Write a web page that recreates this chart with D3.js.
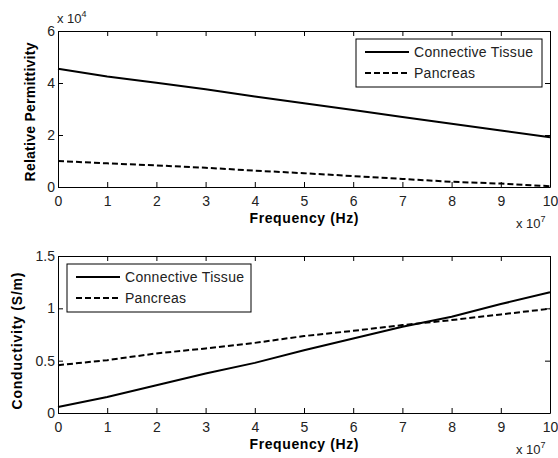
<!DOCTYPE html>
<html>
<head>
<meta charset="utf-8">
<script src="https://cdn.jsdelivr.net/npm/d3@7"></script>
<style>
  body { margin: 0; background: #fff; }
  text { font-family: "Liberation Sans", Arial, sans-serif; }
</style>
</head>
<body>
<div id="chart"></div>
<script>
// data (frequency in units of 1e7 Hz)
const freq = [0, 1, 2, 3, 4, 5, 6, 7, 8, 9, 10]
const permConnective = [4.55, 4.25, 4.01, 3.76, 3.48, 3.22, 2.96, 2.69, 2.43, 2.17, 1.91]   // x 1e4
const permPancreas = [1.0, 0.91, 0.83, 0.74, 0.63, 0.53, 0.42, 0.31, 0.2, 0.13, 0.03]        // x 1e4
const condConnective = [0.057, 0.153, 0.265, 0.377, 0.479, 0.6, 0.712, 0.824, 0.92, 1.041, 1.153]
const condPancreas = [0.457, 0.505, 0.569, 0.617, 0.67, 0.735, 0.785, 0.84, 0.888, 0.942, 0.996]
const xTicks = [0, 1, 2, 3, 4, 5, 6, 7, 8, 9, 10]
const permTicks = [0, 2, 4, 6]
const condTicks = [0, 0.5, 1, 1.5]
const seriesNames = ["Connective Tissue", "Pancreas"]

const width = 558, height = 458

const svg = d3.select("#chart").append("svg")
    .attr("width", width)
    .attr("height", height)

const draw_panel = opts => {
    const xScale = d3.scaleLinear().domain([0, 10]).range([58, 550])
    const yScale = d3.scaleLinear().domain(opts.yDomain).range([opts.bottom, opts.top])

    const g = svg.append("g")

    // lines
    const line = ys => d3.line()
        .x((d, i) => xScale(d))
        .y((d, i) => yScale(ys[i]))(freq)

    g.append("path")
        .attr("d", line(opts.a))
        .attr("fill", "none")
        .attr("stroke", "#000")
        .attr("stroke-width", 2)
    g.append("path")
        .attr("d", line(opts.b))
        .attr("fill", "none")
        .attr("stroke", "#000")
        .attr("stroke-width", 2)
        .attr("stroke-dasharray", "6,3")

    // axes, ticks inward on all sides
    g.append("g")
        .attr("transform", `translate(0,${opts.bottom})`)
        .call(d3.axisBottom(xScale).tickValues(xTicks).tickSizeInner(-5).tickSizeOuter(0).tickPadding(9).tickFormat(d => d))
    g.append("g")
        .attr("transform", `translate(0,${opts.top})`)
        .call(d3.axisTop(xScale).tickValues(xTicks).tickSizeInner(-5).tickSizeOuter(0).tickFormat(""))
    const yAxis = g.append("g")
        .attr("transform", "translate(58,0)")
        .call(d3.axisLeft(yScale).tickValues(opts.yTicks).tickSizeInner(-5).tickSizeOuter(0).tickPadding(3).tickFormat(d => d))
    g.append("g")
        .attr("transform", "translate(550,0)")
        .call(d3.axisRight(yScale).tickValues(opts.yTicks).tickSizeInner(-5).tickSizeOuter(0).tickFormat(""))

    g.selectAll(".domain").attr("stroke", "#000")
    g.selectAll(".tick line").attr("stroke", "#000")
    g.selectAll(".tick text")
        .attr("font-family", "Liberation Sans, Arial, sans-serif")
        .attr("font-size", 14)
        .attr("fill", "#222")
    yAxis.selectAll(".tick text").attr("dy", "0.32em")

    // axis labels (stretched like the original)
    g.append("text")
        .attr("x", 304)
        .attr("y", opts.bottom + 36)
        .attr("text-anchor", "middle")
        .attr("font-weight", "bold")
        .attr("font-size", 14)
        .attr("textLength", 109)
        .attr("lengthAdjust", "spacing")
        .text("Frequency (Hz)")
    g.append("text")
        .attr("transform", `translate(${opts.ylabelX},${opts.ylabelY}) rotate(-90)`)
        .attr("text-anchor", "middle")
        .attr("font-weight", "bold")
        .attr("font-size", 14)
        .attr("textLength", opts.ylabelLen)
        .attr("lengthAdjust", "spacing")
        .text(opts.ylabel)

    // x 10^7 exponent
    const ex = g.append("text")
        .attr("x", 516)
        .attr("y", opts.bottom + 41)
        .attr("font-size", 13)
        .attr("fill", "#222")
    ex.append("tspan").text("x 10")
    ex.append("tspan").attr("dy", -6).attr("font-size", 9).text("7")

    // legend
    const lg = g.append("g")
    lg.append("rect")
        .attr("x", opts.legend.x)
        .attr("y", opts.legend.y)
        .attr("width", opts.legend.w)
        .attr("height", opts.legend.h)
        .attr("fill", "#fff")
        .attr("stroke", "#000")
    const legendLen = [119, 61]
    seriesNames.forEach((name, i) => {
        const ry = opts.legend.y + 13 + i * 21
        lg.append("line")
            .attr("x1", opts.legend.x + 9)
            .attr("x2", opts.legend.x + 53)
            .attr("y1", ry)
            .attr("y2", ry)
            .attr("stroke", "#000")
            .attr("stroke-width", 2)
            .attr("stroke-dasharray", i == 1 ? "6,3" : null)
        lg.append("text")
            .attr("x", opts.legend.x + 58)
            .attr("y", ry)
            .attr("dy", "0.35em")
            .attr("font-size", 14)
            .attr("textLength", legendLen[i])
            .attr("lengthAdjust", "spacing")
            .attr("fill", "#222")
            .text(name)
    })
}

draw_panel({
    top: 31, bottom: 187,
    yDomain: [0, 6], yTicks: permTicks,
    a: permConnective, b: permPancreas,
    ylabel: "Relative Permittivity", ylabelX: 35, ylabelY: 112, ylabelLen: 139,
    legend: {x: 356, y: 39, w: 186, h: 48}
})

draw_panel({
    top: 256, bottom: 413,
    yDomain: [0, 1.5], yTicks: condTicks,
    a: condConnective, b: condPancreas,
    ylabel: "Conductivity (S/m)", ylabelX: 22, ylabelY: 341, ylabelLen: 137,
    legend: {x: 67, y: 264, w: 184, h: 48}
})

// x 10^4 exponent on top panel
const e4 = svg.append("text")
    .attr("x", 57)
    .attr("y", 23)
    .attr("font-size", 13)
    .attr("fill", "#222")
e4.append("tspan").text("x 10")
e4.append("tspan").attr("dy", -6).attr("font-size", 9).text("4")
</script>
</body>
</html>
